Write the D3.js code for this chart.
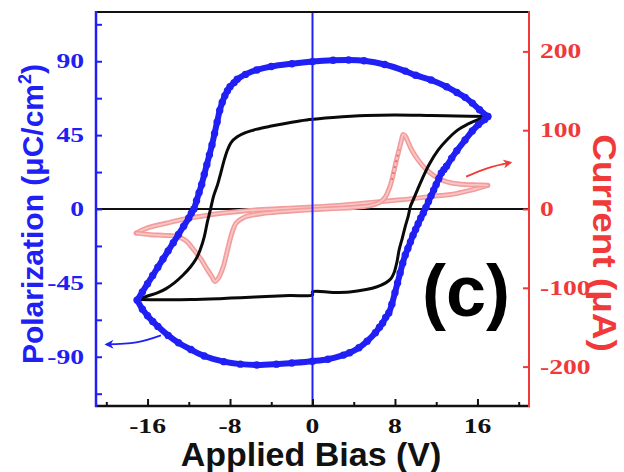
<!DOCTYPE html>
<html>
<head>
<meta charset="utf-8">
<script src="https://cdn.jsdelivr.net/npm/d3@7"></script>
<style>
html,body{margin:0;padding:0;background:#fff;}
svg{display:block;}
</style>
</head>
<body>
<svg id="chart" width="624" height="472"></svg>
<script>
// ---------- DATA ----------
// Blue P-E loop (circle markers), upper branch, x ascending
const polUpperV = [-17,-16.5,-16,-15.5,-15,-14.5,-14,-13.5,-13,-12.5,-12,-11.75,-11.5,-11.25,-11,-10.75,-10.5,-10.25,-10,-9.75,-9.5,-9.25,-9,-8.75,-8.5,-8.25,-8,-7.6,-7.3,-6.5,-5.4,-4,-2,0,2,3.5,5,7,9,10,11.5,13,14,14.8,15.5,16.2,17];
const polUpperP = [-55.5,-50.5,-45.5,-40.5,-35.5,-30.5,-25.5,-20.5,-15.5,-10.5,-5.5,-2.5,0,5,10,15,21,27,33,39,46,53,60,65,69,72,74.5,77,79,82,84.7,86.8,88.5,89.8,90.6,90.8,90.3,88,84,81.5,78.6,74.5,71,68,64.5,60.5,56.3];
// Blue P-E loop, lower branch, x ascending
const polLowerV = [-17,-16.5,-16,-15.5,-15,-14,-13,-11.8,-10.5,-8.6,-7,-5.4,-3.5,-2,0,1.5,3,3.6,4.5,5.3,6.1,6.5,6.8,7.1,7.4,7.7,8,8.25,8.5,8.75,9,9.25,9.5,9.75,10,10.25,10.5,10.75,11,11.25,11.5,11.75,12,12.25,12.5,12.75,13,13.5,14,14.8,15.5,16.1,16.7,17];
const polLowerP = [-55.5,-61,-65,-68.5,-71.5,-77,-81.5,-85.6,-89.5,-93,-94.5,-95,-94.5,-93.8,-92.7,-91.5,-89,-87.6,-84.5,-80.5,-75.4,-72,-69.5,-66,-63.3,-58,-51,-45,-39,-33,-28,-24,-20,-16,-12.5,-9,-5.5,-2.5,1,4.5,8,11.5,15,18.5,21.9,24,26,31,35.5,42,47.5,51.5,54.5,56.3];
// Black loop (line), upper branch
const loopUpperV = [-17,-16,-15,-14.2,-13.4,-12.6,-11.8,-11.3,-10.9,-10.5,-10.2,-9.9,-9.6,-9.2,-8.9,-8.6,-8.3,-7.9,-7.3,-6.5,-5.5,-4,-2,-0.3,2,5.2,8,11.5,14,17];
const loopUpperP = [-55.2,-53,-51,-48.5,-45,-40.5,-35,-30.5,-25,-17,-8,-0.4,7.7,15,21.9,29,35,40.5,44,46.5,48.5,50.5,52.8,54.5,55.8,57,57.3,56.9,56.6,56.3];
// Black loop, lower branch (small step at 0 V)
const loopLowerV = [-17,-15,-11.8,-9,-7,-4.5,-2.2,0,0,2,3.6,5.2,6.2,7.1,7.6,7.9,8.2,8.4,8.7,9,9.3,9.5,9.8,10.2,10.6,11.3,12.2,13.1,14.1,15,16,17];
const loopLowerP = [-55.2,-55.3,-55.2,-54.6,-54,-53.3,-52.7,-52.3,-50.5,-50.8,-50.5,-49,-47.5,-45,-42.5,-39,-32,-25,-18,-10.6,-4,1.6,6,12,17.8,27,36,42.5,48.2,51.5,54.3,56.3];
// Pink current curve (right axis, µA): leakage branch
const curAV = [-17.1,-16,-14.1,-12.5,-10.9,-8.6,-6.1,-3,0,2.5,5.2,8,10,11.5,13.2,15.4,17];
const curAI = [-30.6,-24,-17.8,-13,-9.4,-5,-1.8,0.5,2.5,4.5,7.6,11,13.5,16,18,24,30];
// Pink current curve: switching branch (trough and peak)
const curBV = [-17.1,-15.7,-14.3,-13.1,-12.3,-11.5,-10.8,-10.2,-9.8,-9.45,-9.1,-8.65,-8.3,-8,-7.7,-7.4,-6.9,-6.4,-5,-3.8,-2,0,2,4,5.5,6.1,6.7,7.1,7.5,7.7,8,8.2,8.4,8.6,8.8,9,9.3,9.6,10.2,10.9,11.7,12.5,13.5,14.8,16,17];
const curBI = [-30.6,-32.6,-33.5,-35,-40,-52,-64,-77,-85,-92,-87,-73,-55,-39,-26,-17.8,-12.5,-9.4,-6,-4.3,-2.5,-0.9,0.5,2,4,6,10,16,28,37,54,65,75.5,86,94.6,92.5,84,75.5,63,52,43,37,33,31,30.5,30];
// Ticks
const xMajorTicks = [-16,-8,0,8,16];
const xMinorTicks = [-20,-12,-4,4,12,20];
const yLeftMajorTicks = [-90,-45,0,45,90];
const yLeftMinorTicks = [-112.5,-67.5,-22.5,22.5,67.5,112.5];
const yRightTicks = [-200,-100,0,100,200];
// Annotation arrows (data units)
const blueArrowV = [-14.7,-17.1,-20];
const blueArrowP = [-77,-81.3,-82.5];
const redArrowV = [14.9,17,19.2];
const redArrowI = [41,52,59];

// ---------- CHART ----------
const svg = d3.select('#chart');
const L = 96, R = 529, T = 12, B = 406;
const x = d3.scaleLinear().domain([-21,21]).range([L,R]);
const yL = d3.scaleLinear().domain([-120,120]).range([B,T]);
const yR = d3.scaleLinear().domain([-250,250]).range([B,T]);

const BLUE = '#2020f4', RED = '#f03a3a', PINK = '#f39c9c';

const defs = svg.append('defs');
function marker(id, color){
  defs.append('marker').attr('id', id).attr('viewBox','0 0 10 10').attr('refX',8).attr('refY',5)
    .attr('markerWidth',5).attr('markerHeight',5).attr('orient','auto')
    .append('path').attr('d','M0,0 L10,5 L0,10 L3,5 Z').attr('fill', color);
}
marker('arrB', BLUE); marker('arrR', RED);

const zip = (a,b) => a.map((v,i)=>[v,b[i]]);
const lineL = d3.line().x(d=>x(d[0])).y(d=>yL(d[1])).curve(d3.curveCatmullRom.alpha(0.5));
const lineR = d3.line().x(d=>x(d[0])).y(d=>yR(d[1])).curve(d3.curveCatmullRom.alpha(0.5));

// zero reference line
svg.append('line').attr('x1',L).attr('x2',R).attr('y1',yL(0)).attr('y2',yL(0))
  .attr('stroke','#111').attr('stroke-width',2);

// pink current curves
[zip(curAV,curAI), zip(curBV,curBI)].forEach(d=>{
  svg.append('path').attr('d', lineR(d)).attr('fill','none').attr('stroke',PINK).attr('stroke-width',5)
    .attr('stroke-linejoin','round').attr('stroke-linecap','round');
  svg.append('path').attr('d', lineR(d)).attr('fill','none').attr('stroke','#f9c6c6').attr('stroke-width',1.8)
    .attr('stroke-linejoin','round');
});
svg.append('path').attr('d', lineR(zip(curBV,curBI).filter(d=>d[0]>=7.6 && d[0]<=8.5)))
  .attr('fill','none').attr('stroke','#e07070').attr('stroke-width',2).attr('stroke-dasharray','2,4');

// black loop
[zip(loopUpperV,loopUpperP), zip(loopLowerV,loopLowerP)].forEach(d=>{
  svg.append('path').attr('d', lineL(d)).attr('fill','none').attr('stroke','#0a0a0a').attr('stroke-width',3)
    .attr('stroke-linejoin','round');
});

// blue loop with markers
[zip(polUpperV,polUpperP), zip(polLowerV,polLowerP)].forEach(d=>{
  svg.append('path').attr('d', lineL(d)).attr('fill','none').attr('stroke',BLUE).attr('stroke-width',6)
    .attr('stroke-linejoin','round');
  svg.append('g').selectAll('circle').data(d).join('circle')
    .attr('cx',p=>x(p[0])).attr('cy',p=>yL(p[1])).attr('r',3.7).attr('fill',BLUE);
});

// vertical zero line
svg.append('line').attr('x1',x(0)).attr('x2',x(0)).attr('y1',T).attr('y2',B)
  .attr('stroke',BLUE).attr('stroke-width',2);

// arrows
const arrowL = d3.line().x(d=>x(d[0])).y(d=>yL(d[1])).curve(d3.curveNatural);
const arrowR = d3.line().x(d=>x(d[0])).y(d=>yR(d[1])).curve(d3.curveNatural);
svg.append('path').attr('d', arrowL(zip(blueArrowV,blueArrowP))).attr('fill','none')
  .attr('stroke',BLUE).attr('stroke-width',1.8).attr('marker-end','url(#arrB)');
svg.append('path').attr('d', arrowR(zip(redArrowV,redArrowI))).attr('fill','none')
  .attr('stroke',RED).attr('stroke-width',1.8).attr('marker-end','url(#arrR)');

// frame / axes
svg.append('line').attr('x1',L).attr('x2',R).attr('y1',T).attr('y2',T).attr('stroke','#111').attr('stroke-width',2);
svg.append('line').attr('x1',L-1).attr('x2',R+1).attr('y1',B).attr('y2',B).attr('stroke','#111').attr('stroke-width',2.5);
svg.append('line').attr('x1',L).attr('x2',L).attr('y1',T-1).attr('y2',B+1).attr('stroke',BLUE).attr('stroke-width',2.5);
svg.append('line').attr('x1',R).attr('x2',R).attr('y1',T-1).attr('y2',B+1).attr('stroke',RED).attr('stroke-width',2);

// bottom ticks (inside)
svg.append('g').attr('transform',`translate(0,${B})`)
  .call(d3.axisBottom(x).tickValues(xMajorTicks).tickSize(-7).tickFormat(''))
  .call(g=>{g.select('.domain').remove(); g.selectAll('line').attr('stroke','#111').attr('stroke-width',2);});
svg.append('g').attr('transform',`translate(0,${B})`)
  .call(d3.axisBottom(x).tickValues(xMinorTicks).tickSize(-4).tickFormat(''))
  .call(g=>{g.select('.domain').remove(); g.selectAll('line').attr('stroke','#111').attr('stroke-width',2);});
// left ticks (inside)
svg.append('g').attr('transform',`translate(${L},0)`)
  .call(d3.axisLeft(yL).tickValues(yLeftMajorTicks.concat(yLeftMinorTicks)).tickSize(-6).tickFormat(''))
  .call(g=>{g.select('.domain').remove(); g.selectAll('line').attr('stroke',BLUE).attr('stroke-width',2);});
// right ticks (inside)
svg.append('g').attr('transform',`translate(${R},0)`)
  .call(d3.axisRight(yR).tickValues(yRightTicks).tickSize(-6).tickFormat(''))
  .call(g=>{g.select('.domain').remove(); g.selectAll('line').attr('stroke',RED).attr('stroke-width',2);});

// tick labels (bold serif, widened)
const SERIF = '"Liberation Serif","DejaVu Serif",serif';
function tickLabel(tx, ty, txt, anchor, color){
  svg.append('g').attr('transform',`translate(${tx},${ty})`)
    .append('text').attr('transform','scale(1.38,1)').attr('text-anchor',anchor)
    .attr('font-family',SERIF).attr('font-weight','bold').attr('font-size',20)
    .attr('fill',color).text(txt);
}
xMajorTicks.forEach(v=>tickLabel(x(v), 433, String(v), 'middle', '#111'));
yLeftMajorTicks.forEach(v=>tickLabel(84, yL(v)+7, String(v), 'end', BLUE));
yRightTicks.forEach(v=>tickLabel(540, yR(v)+7, String(v), 'start', RED));

// axis titles
const SANS = '"Liberation Sans",Arial,sans-serif';
svg.append('text').attr('x',311).attr('y',466).attr('text-anchor','middle')
  .attr('font-family',SANS).attr('font-weight','bold').attr('font-size',34).attr('fill','#111')
  .text('Applied Bias (V)');
const pl = svg.append('text').attr('transform','translate(43,214) rotate(-90)').attr('text-anchor','middle')
  .attr('font-family',SANS).attr('font-weight','bold').attr('font-size',30).attr('fill',BLUE);
pl.append('tspan').text('Polarization (μC/cm');
pl.append('tspan').attr('dy',-12).attr('font-size',18).text('2');
pl.append('tspan').attr('dy',12).text(')');
svg.append('text').attr('transform','translate(593,243) rotate(90) scale(1.12,1)').attr('text-anchor','middle')
  .attr('font-family',SANS).attr('font-weight','bold').attr('font-size',33).attr('fill',RED)
  .text('Current (μA)');

// panel label
svg.append('text').attr('x',466).attr('y',316).attr('text-anchor','middle')
  .attr('font-family',SANS).attr('font-weight','bold').attr('font-size',72).attr('fill','#000')
  .text('(c)');
</script>
</body>
</html>
